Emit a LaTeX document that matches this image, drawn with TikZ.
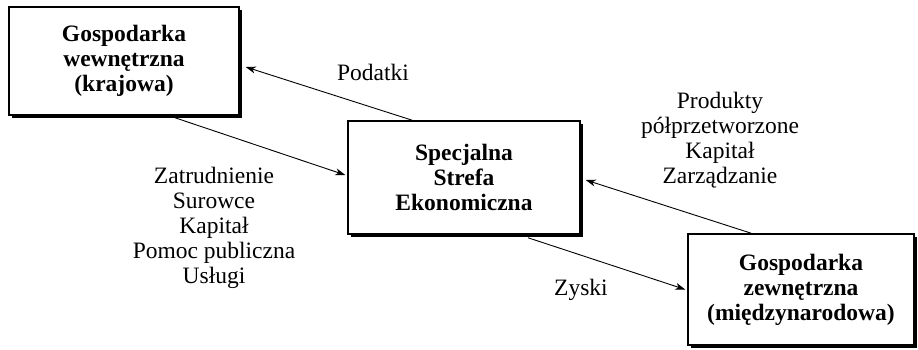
\documentclass[tikz,border=0pt]{standalone}
\usepackage{fontspec}
\setmainfont{Liberation Serif}
\usetikzlibrary{arrows.meta,shadows}
\begin{document}
\begin{tikzpicture}[x=1pt,y=-1pt,
  box/.style={draw, line width=1.5pt, fill=white, align=center,
    font=\bfseries\fontsize{23.5}{25}\selectfont, inner sep=0pt,
    drop shadow={shadow xshift=3pt, shadow yshift=-3pt, fill=black, opacity=1}},
  lbl/.style={align=center, font=\fontsize{23.5}{25}\selectfont, inner sep=0pt},
  flow/.style={-{Stealth[length=10pt,width=7pt,inset=3pt]}, line width=0.9pt}]
\useasboundingbox (0,0) rectangle (918,350);
\node[box, minimum width=230pt, minimum height=108pt] (d) at (124,61)
  {Gospodarka\\wewnętrzna\\(krajowa)};
\node[box, minimum width=232pt, minimum height=113pt] (s) at (464,177.5)
  {Specjalna\\Strefa\\Ekonomiczna};
\node[box, minimum width=226pt, minimum height=111pt] (z) at (801,289.5)
  {Gospodarka\\zewnętrzna\\(międzynarodowa)};
\draw[flow] ([xshift=65pt]s.north west) -- ([xshift=6pt,yshift=-6pt]d.east);
\draw[flow] ([xshift=51pt,yshift=-2pt]d.south) -- ([xshift=-2pt,yshift=2.5pt]s.west);
\draw[flow] ([xshift=64pt]z.north west) -- ([xshift=5pt,yshift=-2.5pt]s.east);
\draw[flow] ([xshift=64pt,yshift=-3pt]s.south) -- ([xshift=-2pt]z.west);
\node[lbl] (lp) at (373,72) {Podatki};
\node[lbl] (ll) at (214,228) {Zatrudnienie\\Surowce\\Kapitał\\Pomoc publiczna\\Usługi};
\node[lbl] (lr) at (720,140) {Produkty\\półprzetworzone\\Kapitał\\Zarządzanie};
\node[lbl] (lz) at (581,290) {Zyski};
\end{tikzpicture}
\end{document}
